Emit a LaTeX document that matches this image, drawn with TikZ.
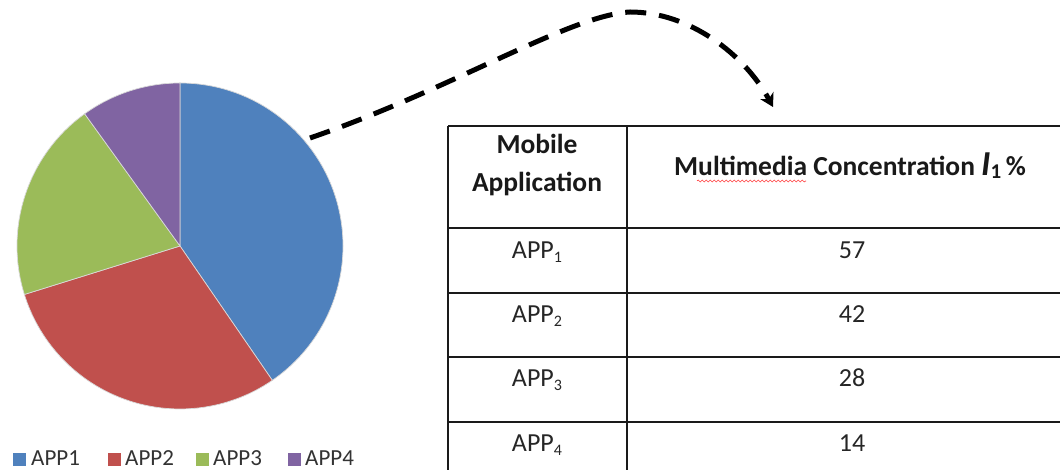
\documentclass[tikz,border=0pt]{standalone}
\usepackage{fontspec}
\setmainfont{Carlito}
\usetikzlibrary{arrows.meta,decorations.pathmorphing}
\definecolor{pblue}{HTML}{4F81BD}
\definecolor{pred}{HTML}{C0504D}
\definecolor{pgreen}{HTML}{9BBB59}
\definecolor{ppurple}{HTML}{8064A2}
\definecolor{tline}{HTML}{1A1A1A}
\tikzset{
  slice/.style={draw=white!85!black, line width=0.7pt},
  tbl/.style={draw=tline, line width=1.6pt},
  hdr/.style={anchor=base, inner sep=0pt, font=\fontsize{27.5}{32}\selectfont\bfseries, text=black!90},
  cell/.style={anchor=base, inner sep=0pt, font=\fontsize{26}{30}\selectfont, text=black!85},
  legtext/.style={anchor=base west, inner sep=0pt, font=\fontsize{23}{27}\selectfont, text=black!80},
  legbox/.style={minimum size=13pt, inner sep=0pt, draw=none},
  connector/.style={line width=5pt, dash pattern=on 21pt off 13pt, -{Stealth[length=13pt,width=15pt,inset=4pt]}},
}
\newcommand{\subn}[1]{\raisebox{-0.14em}{\fontsize{16}{16}\selectfont #1}}
\begin{document}
\begin{tikzpicture}[x=1pt,y=1pt]
\useasboundingbox (0,0) rectangle (1060,470);
\clip (0,0) rectangle (1060,470);
\fill[white] (0,0) rectangle (1060,470);

% pie chart
\coordinate (pc) at (180,224);
\path[slice, fill=pblue] (pc) -- ++(90:163) arc[start angle=90, end angle=-55.5, radius=163] -- cycle;
\path[slice, fill=pred] (pc) -- ++(-55.5:163) arc[start angle=-55.5, end angle=-162.7, radius=163] -- cycle;
\path[slice, fill=pgreen] (pc) -- ++(-162.7:163) arc[start angle=-162.7, end angle=-234.2, radius=163] -- cycle;
\path[slice, fill=ppurple] (pc) -- ++(-234.2:163) arc[start angle=-234.2, end angle=-270, radius=163] -- cycle;

% legend
\node[legbox, fill=pblue, anchor=south west] (lb1) at (13,4) {};
\node[legtext] (lt1) at (31,4) {APP1};
\node[legbox, fill=pred, anchor=south west] (lb2) at (108,4) {};
\node[legtext] (lt2) at (125,4) {APP2};
\node[legbox, fill=pgreen, anchor=south west] (lb3) at (196,4) {};
\node[legtext] (lt3) at (213,4) {APP3};
\node[legbox, fill=ppurple, anchor=south west] (lb4) at (288,4) {};
\node[legtext] (lt4) at (305,4) {APP4};

% table grid
\draw[tbl] (448,344) -- (1075,344);
\draw[tbl] (448,242) -- (1075,242);
\draw[tbl] (448,177) -- (1075,177);
\draw[tbl] (448,113) -- (1075,113);
\draw[tbl] (448,48) -- (1075,48);
\draw[tbl] (448,344) -- (448,-5);
\draw[tbl] (627,344) -- (627,-5);

% header
\node[hdr] (h1a) at (537,316) {Mobile};
\node[hdr] (h1b) at (537,278) {Application};
\node[hdr] (h2) at (850,294) {Multimedia Concentration {\fontsize{35}{35}\selectfont\itshape I}\raisebox{-0.1em}{\fontsize{21}{21}\selectfont 1}\,\%};
\draw[red!75, line width=0.6pt, decorate, decoration={snake, amplitude=1pt, segment length=4pt}]
  ([xshift=23pt,yshift=-5pt]h2.base west) -- ([xshift=132pt,yshift=-5pt]h2.base west);

% rows
\node[cell] (a1) at (537,211) {APP\subn{1}};
\node[cell] (v1) at (852,211) {57};
\node[cell] (a2) at (537,147) {APP\subn{2}};
\node[cell] (v2) at (852,147) {42};
\node[cell] (a3) at (537,83) {APP\subn{3}};
\node[cell] (v3) at (852,83) {28};
\node[cell] (a4) at (537,18) {APP\subn{4}};
\node[cell] (v4) at (852,18) {14};

% connector
\coordinate (from) at (310,332);
\coordinate (apex) at (630,458);
\coordinate (to) at (773,363);
\draw[connector] (from) .. controls (450,380) and (570,455) .. (apex) .. controls (690,458) and (745,415) .. (to);
\end{tikzpicture}
\end{document}
